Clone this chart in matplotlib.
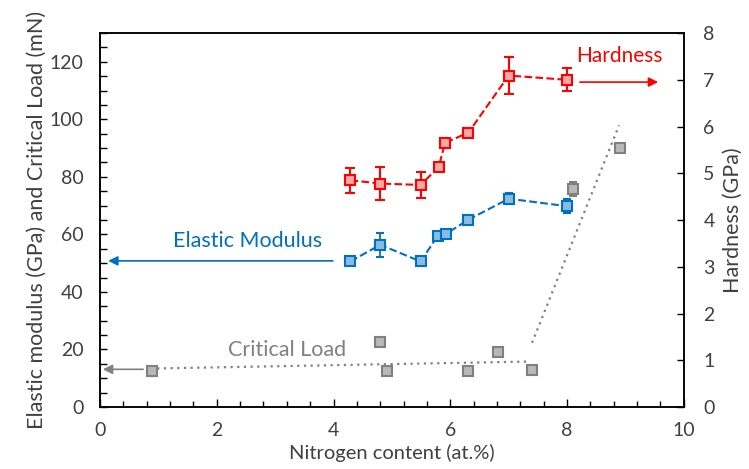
import matplotlib
matplotlib.use("Agg")
import matplotlib.pyplot as plt
from matplotlib.ticker import MultipleLocator

plt.rcParams['font.family'] = ['Lato', 'DejaVu Sans']

# Hardness (GPa), right axis
hard_x = [4.29, 4.80, 5.49, 5.80, 5.91, 6.31, 7.00, 8.00]
hard_y = [4.85, 4.78, 4.75, 5.13, 5.65, 5.87, 7.09, 7.00]
hard_err = [0.27, 0.35, 0.28, 0.07, 0.06, 0.10, 0.39, 0.25]

# Elastic modulus (GPa), left axis
mod_x = [4.29, 4.80, 5.49, 5.79, 5.92, 6.31, 7.00, 8.00]
mod_y = [50.6, 56.4, 50.6, 59.6, 60.1, 65.1, 72.4, 69.8]
mod_err = [1.2, 4.1, 1.5, 1.2, 1.0, 1.0, 2.0, 2.5]

# Critical load (mN), left axis
load_x = [0.89, 4.80, 4.91, 6.31, 6.81, 7.40, 8.10, 8.90]
load_y = [12.4, 22.6, 12.4, 12.4, 19.2, 12.7, 75.8, 89.9]
load_err = [1.5, 0.8, 0.8, 0.8, 0.8, 0.8, 2.3, 0.8]

# hand-drawn trend lines for critical load
trend1_x = [0.98, 7.36]
trend1_y = [13.4, 15.8]
trend2_x = [7.40, 8.89]
trend2_y = [22.3, 97.9]

red = '#FF0000'
blue = '#0070C0'
grey = '#808080'
txt = '#404040'

fig = plt.figure(figsize=(7.49, 4.69), dpi=100)
ax = fig.add_axes([0.1335, 0.1322, 0.7795, 0.7974])
ax2 = ax.twinx()

ax.plot(trend1_x, trend1_y, linestyle=(0, (1, 2)), color=grey, linewidth=1.6)
ax.plot(trend2_x, trend2_y, linestyle=(0, (1, 2)), color=grey, linewidth=1.6)

ax.errorbar(load_x, load_y, yerr=load_err, fmt='s', color=grey, ms=7,
            mfc='#B8B8B8', mec=grey, mew=1.5, capsize=3, elinewidth=1.3)
ax.errorbar(mod_x, mod_y, yerr=mod_err, fmt='s', linestyle='--', color=blue,
            ms=7, mfc='#8CBBE2', mec=blue, mew=1.5, capsize=3,
            elinewidth=1.3, linewidth=1.5)
ax2.errorbar(hard_x, hard_y, yerr=hard_err, fmt='s', linestyle='--', color=red,
             ms=7, mfc='#FFA8A8', mec=red, mew=1.5, capsize=3.5,
             elinewidth=1.5, linewidth=1.5)

# labels with arrows pointing to the axis each series belongs to
ax.annotate('', xy=(0.14, 50.8), xytext=(3.99, 50.8),
            arrowprops=dict(arrowstyle='-|>', color=blue, lw=1.2,
                            mutation_scale=14, shrinkA=0, shrinkB=0))
ax.text(2.52, 57.7, 'Elastic Modulus', color=blue, fontsize=15.5,
        ha='center', va='center')
ax.annotate('', xy=(0.05, 13.1), xytext=(0.74, 13.1),
            arrowprops=dict(arrowstyle='-|>', color=grey, lw=1.2,
                            mutation_scale=14, shrinkA=0, shrinkB=0))
ax.text(3.2, 19.7, 'Critical Load', color=grey, fontsize=15.5,
        ha='center', va='center')
ax2.annotate('', xy=(9.56, 6.95), xytext=(8.22, 6.95),
             arrowprops=dict(arrowstyle='-|>', color=red, lw=1.2,
                             mutation_scale=14, shrinkA=0, shrinkB=0))
ax2.text(8.9, 7.5, 'Hardness', color=red, fontsize=15,
         ha='center', va='center')

ax.set_xlim(0, 10)
ax.set_ylim(0, 130)
ax2.set_ylim(0, 8)

ax.xaxis.set_major_locator(MultipleLocator(2))
ax.xaxis.set_minor_locator(MultipleLocator(0.4))
ax.yaxis.set_major_locator(MultipleLocator(20))
ax.yaxis.set_minor_locator(MultipleLocator(5))
ax2.yaxis.set_major_locator(MultipleLocator(1))

ax.tick_params(axis='both', which='both', direction='in', top=False,
               labelsize=14, labelcolor=txt, width=1)
ax.tick_params(axis='x', which='major', length=6, pad=11)
ax.tick_params(axis='x', which='minor', length=4)
ax.tick_params(axis='y', which='both', length=5, pad=12)
ax2.tick_params(axis='y', direction='in', length=5, labelsize=14,
                labelcolor=txt, pad=14, width=1)

for sp in ax.spines.values():
    sp.set_linewidth(1.1)
for sp in ax2.spines.values():
    sp.set_linewidth(1.1)

ax.set_xlabel('Nitrogen content (at.%)', fontsize=14.5, color=txt, labelpad=3)
ax.set_ylabel('Elastic modulus (GPa) and Critical Load (mN)', fontsize=15.5,
              color=txt, labelpad=2)
ax2.set_ylabel('Hardness (GPa)', fontsize=15.5, color=txt, labelpad=6)

fig.savefig('out.png', dpi=100)
